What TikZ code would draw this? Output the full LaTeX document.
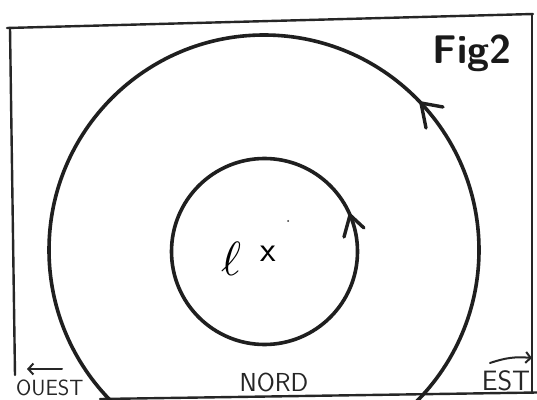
\documentclass[tikz,border=0pt]{standalone}
\usetikzlibrary{arrows.meta}
\tikzset{
  frameline/.style={line width=2.4pt, draw=black!85, line cap=round},
  orbit/.style={line width=3.6pt, draw=black!88},
  barb/.style={line width=3.4pt, draw=black!88, line cap=round},
  compass/.style={font=\sffamily\fontsize{22}{22}\selectfont, text=black!85, inner sep=0pt},
  dirarrow/.style={line width=2pt, draw=black!85, line cap=round, -{Straight Barb[length=5pt,width=11pt,line width=2pt]}},
}
\begin{document}
\begin{tikzpicture}[x=1pt,y=1pt]
\useasboundingbox (0,0) rectangle (537,399);
\clip (0,0) rectangle (537,399);
\fill[white] (0,0) rectangle (537,399);
% frame
\coordinate (tl) at (7,371);
\coordinate (tr) at (533,385);
\coordinate (bl) at (15,24);
\coordinate (br) at (532,6);
\coordinate (bstart) at (100,0);
\coordinate (bend) at (537,6.5);
\draw[frameline] (tl) -- (tr);
\draw[frameline] (10,371) -- (bl);
\draw[frameline] (532,385) -- (br);
\draw[frameline] (bstart) -- (bend);
% circles
\coordinate (c) at (264,149);
\coordinate (ci) at (264.5,147.5);
\draw[orbit] (c) circle[radius=215pt];
\draw[orbit] (ci) circle[radius=93pt];
% arrow on outer orbit
\coordinate (otip) at (421,296);
\draw[barb] (443,292) -- (otip) -- (426,271);
% arrow on inner orbit
\coordinate (itip) at (350,184);
\draw[barb] (364,171) -- (itip) -- (344,162);
% texts
\node[inner sep=0pt, font=\sffamily\bfseries\fontsize{40}{40}\selectfont, text=black!90] (fig) at (472,346) {Fig2};
\node[inner sep=0pt] (ell) at (231,140) {\scalebox{4.8}{$\ell$}};
\node[inner sep=0pt, font=\sffamily\fontsize{36}{36}\selectfont] (x) at (268,145) {x};
\fill[black!80] (288,178) circle[radius=1pt];
\node[compass, anchor=south, font=\sffamily\fontsize{26}{26}\selectfont] (nord) at (274,6.5) {NORD};
\node[compass, anchor=south, font=\sffamily\fontsize{28}{28}\selectfont] (est) at (506,7.5) {EST};
\node[compass, anchor=south west] (ouest) at (16,3) {OUEST};
% direction arrows
\coordinate (ea1) at (490,36);
\coordinate (ea2) at (532,41);
\draw[dirarrow] (ea1) to[bend left=12] (ea2);
\coordinate (oa1) at (62,30);
\coordinate (oa2) at (27,30);
\draw[dirarrow] (oa1) -- (oa2);
\end{tikzpicture}
\end{document}
